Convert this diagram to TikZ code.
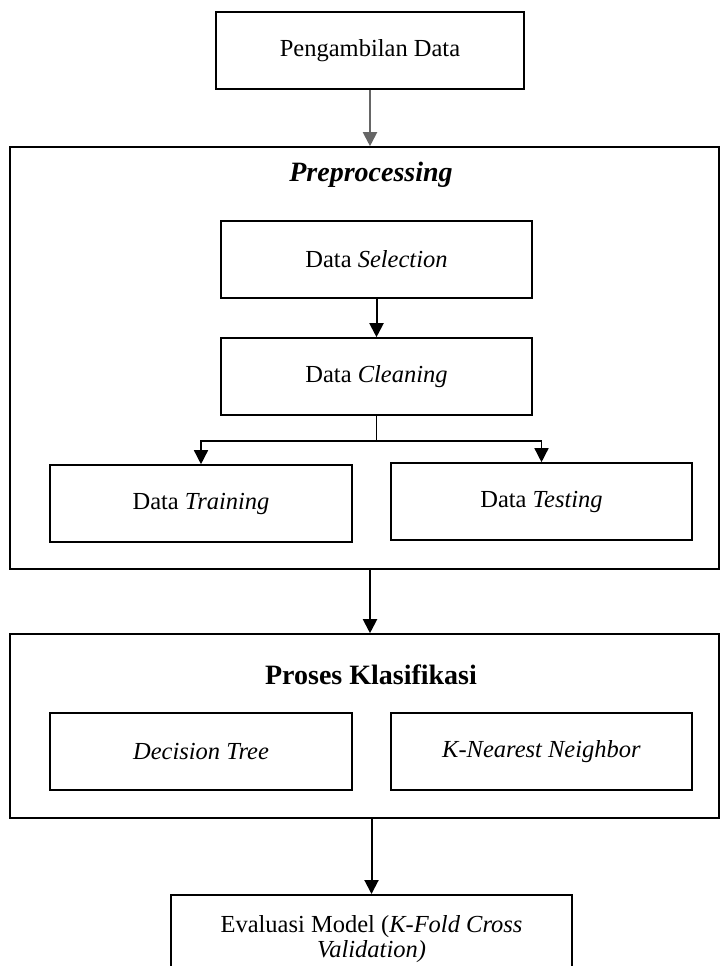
\documentclass[tikz,border=0pt]{standalone}
\usepackage{fontspec}
\setmainfont{Liberation Serif}
\usetikzlibrary{arrows.meta,calc}
\begin{document}
\begin{tikzpicture}[x=1pt,y=-1pt,
  box/.style={draw=black,line width=1.6pt,rectangle,inner sep=0pt,
    font=\fontsize{24.5}{28}\selectfont,align=center},
  frame/.style={draw=black,line width=1.6pt,rectangle,inner sep=0pt},
  ttl/.style={font=\fontsize{28}{32}\selectfont\bfseries},
  arr/.style={line width=2pt,-{Triangle[width=14pt,length=14pt]}},
  thinarr/.style={line width=1.5pt,-{Triangle[width=14pt,length=14pt]}},
]
\clip (0,0) rectangle (720,966);
\fill[white] (0,0) rectangle (720,966);
% outer frames
\node[frame,minimum width=709pt,minimum height=422pt] (pre) at (364.5,358) {};
\node[frame,minimum width=709pt,minimum height=184pt] (proc) at (364.5,726) {};
\node[ttl] (pretitle) at (371,175) {\textit{Preprocessing}};
\node[ttl] (proctitle) at (371,675) {Proses Klasifikasi};
% boxes
\node[box,minimum width=308pt,minimum height=77pt] (peng) at (370,50.5) {Pengambilan Data};
\node[box,minimum width=311pt,minimum height=77pt] (sel) at (376.5,259.5) {Data \textit{Selection}};
\node[box,minimum width=311pt,minimum height=77pt] (clean) at (376.5,376.5) {Data \textit{Cleaning}};
\node[box,minimum width=302pt,minimum height=77pt] (train) at (201,503.5) {Data \textit{Training}};
\node[box,minimum width=301pt,minimum height=77pt] (test) at (541.5,501.5) {Data \textit{Testing}};
\node[box,minimum width=302pt,minimum height=77pt] (dt) at (201,751.5) {\textit{Decision Tree}};
\node[box,minimum width=301pt,minimum height=77pt] (knn) at (541.5,751.5) {\textit{K-Nearest Neighbor}};
\node[box,minimum width=401pt,minimum height=84pt,anchor=north,text depth=0pt] (eval) at (371.5,894)
  {Evaluasi Model (\textit{K-Fold Cross}\\[-3pt]\textit{Validation)}};
% connectors
\draw[arr,draw=black!60,fill=black] (peng.south) -- (peng.south |- pre.north);
\draw[arr] (sel.south) -- (clean.north);
\draw[thinarr] (clean.south) -- ++(0,25) -| (train.north);
\draw[thinarr] (clean.south) -- ++(0,25) -| (test.north);
\draw[arr] (peng.south |- pre.south) -- (peng.south |- proc.north);
\draw[arr] (eval.north |- proc.south) -- (eval.north);
\end{tikzpicture}
\end{document}
